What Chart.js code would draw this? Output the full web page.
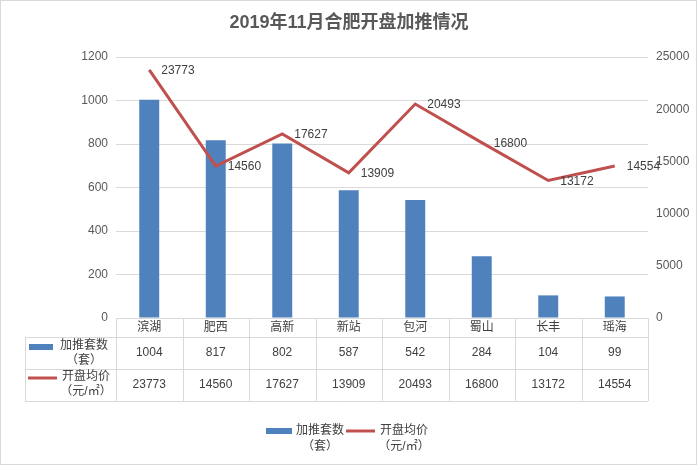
<!DOCTYPE html>
<html>
<head>
<meta charset="utf-8">
<script src="https://cdn.jsdelivr.net/npm/chart.js@4.4.0/dist/chart.umd.min.js"></script>
<style>
  html, body { margin: 0; padding: 0; background: #fff; }
  #wrap { width: 697px; height: 465px; position: relative; }
</style>
</head>
<body>
<div id="wrap"><canvas id="chart" width="697" height="465"></canvas></div>
<script>
const districts = ['滨湖', '肥西', '高新', '新站', '包河', '蜀山', '长丰', '瑶海'];
const newUnits = [1004, 817, 802, 587, 542, 284, 104, 99];
const avgPrice = [23773, 14560, 17627, 13909, 20493, 16800, 13172, 14554];
const unitsTicks = [0, 200, 400, 600, 800, 1000, 1200];
const priceTicks = [0, 5000, 10000, 15000, 20000, 25000];

const FONT = "'Liberation Sans', 'Noto Sans CJK SC', sans-serif";
const BLUE = '#4F81BD';
const RED = '#C0504D';
const GRID = '#d9d9d9';
const TXT = '#404040';

// table under the axis + legend + title + line labels
const extras = {
  id: 'extras',
  afterDraw(chart) {
    const ctx = chart.ctx;
    const x = chart.scales.x;
    const area = chart.chartArea;
    const step = x.getPixelForValue(1) - x.getPixelForValue(0);
    const left = area.left, right = area.right, top = area.bottom;
    const r1 = top + 19, r2 = top + 51, r3 = top + 83, outer = 25;

    ctx.save();
    // title
    ctx.fillStyle = '#595959';
    ctx.font = 'bold 18px ' + FONT;
    ctx.textAlign = 'center';
    ctx.textBaseline = 'middle';
    ctx.fillText('2019年11月合肥开盘加推情况', 349, 23);

    // line labels
    ctx.fillStyle = TXT;
    ctx.font = '12px ' + FONT;
    ctx.textAlign = 'left';
    const meta = chart.getDatasetMeta(1);
    meta.data.forEach((pt, i) => {
      ctx.fillText(String(avgPrice[i]), pt.x + 12, pt.y + 1);
    });

    // table lines
    ctx.strokeStyle = GRID;
    ctx.lineWidth = 1;
    ctx.beginPath();
    ctx.moveTo(left, top + 0.5); ctx.lineTo(right, top + 0.5);
    [r1, r2, r3].forEach(yy => { ctx.moveTo(outer, yy + 0.5); ctx.lineTo(right, yy + 0.5); });
    ctx.moveTo(outer + 0.5, r1); ctx.lineTo(outer + 0.5, r3);
    for (let i = 0; i <= districts.length; i++) {
      const xx = Math.round(left + i * step) + 0.5;
      ctx.moveTo(xx, top); ctx.lineTo(xx, r3);
    }
    ctx.stroke();

    // table text
    ctx.fillStyle = TXT;
    ctx.font = '12px ' + FONT;
    ctx.textAlign = 'center';
    districts.forEach((d, i) => {
      const cx = x.getPixelForValue(i);
      ctx.fillText(d, cx, top + 10);
      ctx.fillText(String(newUnits[i]), cx, r1 + 16);
      ctx.fillText(String(avgPrice[i]), cx, r2 + 16);
    });

    // row headers
    ctx.fillStyle = BLUE;
    ctx.fillRect(29, r1 + 7, 24, 6);
    ctx.strokeStyle = RED;
    ctx.lineWidth = 3;
    ctx.beginPath();
    ctx.moveTo(28, r2 + 9); ctx.lineTo(57, r2 + 9);
    ctx.stroke();
    ctx.fillStyle = TXT;
    ctx.textAlign = 'center';
    ctx.fillText('加推套数', 84, r1 + 9);
    ctx.fillText('（套）', 84, r1 + 24);
    ctx.fillText('开盘均价', 86, r2 + 8);
    ctx.fillText('（元/㎡）', 86, r2 + 23);

    // bottom legend
    ctx.fillStyle = BLUE;
    ctx.fillRect(266, 428, 26, 6);
    ctx.strokeStyle = RED;
    ctx.beginPath();
    ctx.moveTo(346, 431); ctx.lineTo(375, 431);
    ctx.stroke();
    ctx.fillStyle = TXT;
    ctx.fillText('加推套数', 320, 431);
    ctx.fillText('（套）', 320, 447);
    ctx.fillText('开盘均价', 404, 431);
    ctx.fillText('（元/㎡）', 404, 447);

    // outer frame
    ctx.strokeStyle = GRID;
    ctx.lineWidth = 1;
    ctx.strokeRect(0.5, 0.5, 696, 464);
    ctx.restore();
  }
};

new Chart(document.getElementById('chart'), {
  data: {
    labels: districts,
    datasets: [
      {
        type: 'bar',
        label: '加推套数（套）',
        data: newUnits,
        backgroundColor: BLUE,
        yAxisID: 'y',
        barPercentage: 0.3,
        categoryPercentage: 1,
        order: 2
      },
      {
        type: 'line',
        label: '开盘均价（元/㎡）',
        data: avgPrice,
        borderColor: RED,
        borderWidth: 3,
        pointRadius: 0,
        tension: 0,
        yAxisID: 'y1',
        order: 1
      }
    ]
  },
  options: {
    responsive: false,
    animation: false,
    layout: { padding: { top: 57, bottom: 147, left: 0, right: 0 } },
    plugins: {
      legend: { display: false },
      title: { display: false },
      tooltip: { enabled: false }
    },
    scales: {
      x: {
        display: false,
        offset: true
      },
      y: {
        position: 'left',
        min: 0,
        max: 1200,
        afterFit(scale) { scale.width = 116; },
        afterBuildTicks(scale) { scale.ticks = unitsTicks.map(v => ({ value: v })); },
        border: { display: false },
        grid: { color: GRID, drawTicks: false },
        ticks: { padding: 8, color: '#595959', font: { size: 12, family: FONT }, callback: v => String(v) }
      },
      y1: {
        position: 'right',
        min: 0,
        max: 25000,
        afterFit(scale) { scale.width = 49; },
        afterBuildTicks(scale) { scale.ticks = priceTicks.map(v => ({ value: v })); },
        border: { display: false },
        grid: { display: false, drawTicks: false },
        ticks: { padding: 8, color: '#595959', font: { size: 12, family: FONT }, callback: v => String(v) }
      }
    }
  },
  plugins: [extras]
});
</script>
</body>
</html>
